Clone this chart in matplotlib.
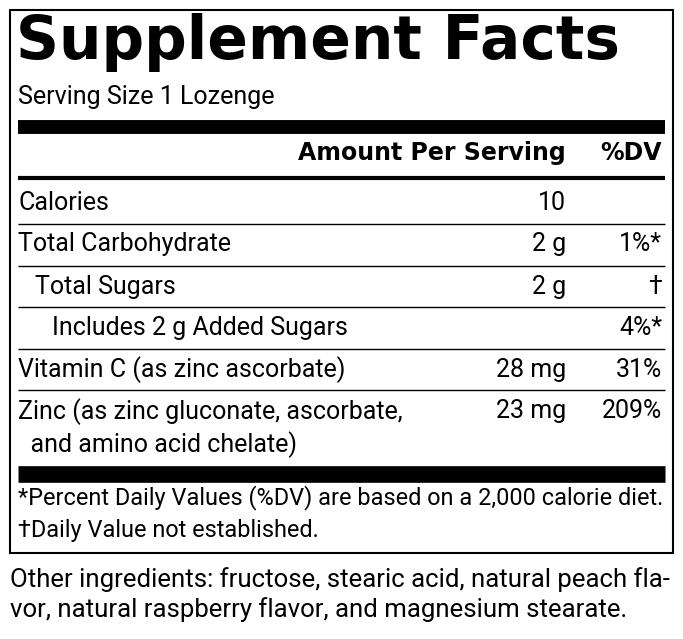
import matplotlib
matplotlib.use("Agg")
import matplotlib.pyplot as plt
from matplotlib.font_manager import fontManager

names = {f.name for f in fontManager.ttflist}
NARROW = ["Liberation Sans Narrow"] if "Liberation Sans Narrow" in names else ["Roboto"]
NARROW = NARROW + ["DejaVu Sans"]
BOLD = ["DejaVu Sans"]

title = "Supplement Facts"
serving = "Serving Size 1 Lozenge"
header_amount = "Amount Per Serving"
header_dv = "%DV"
labels = ["Calories", "Total Carbohydrate", "Total Sugars", "Includes 2 g Added Sugars",
          "Vitamin C (as zinc ascorbate)", "Zinc (as zinc gluconate, ascorbate,\n  and amino acid chelate)"]
indents = [0, 0, 1, 2, 0, 0]
amounts = ["10", "2 g", "2 g", "", "28 mg", "23 mg"]
dvs = ["", "1%*", "\u2020", "4%*", "31%", "209%"]
footnotes = ["*Percent Daily Values (%DV) are based on a 2,000 calorie diet.", "\u2020Daily Value not established."]
other = "Other ingredients: fructose, stearic acid, natural peach fla-\nvor, natural raspberry flavor, and magnesium stearate."

W, H = 683, 639
fig = plt.figure(figsize=(W/100, H/100), dpi=100)
ax = fig.add_axes([0, 0, 1, 1])
ax.set_xlim(0, W); ax.set_ylim(H, 0); ax.axis("off")

def hline(y, lw, x0=18, x1=665):
    ax.plot([x0, x1], [y, y], color="black", lw=lw, solid_capstyle="butt")

ax.add_patch(plt.Rectangle((10, 10), 663, 543, fill=False, lw=1.5, ec="black"))
ax.text(16, 43, title, fontsize=43, fontweight="bold", family=BOLD, va="center", ha="left")
fs = 18
ax.text(18, 97, serving, fontsize=fs, family=NARROW, va="center")
hline(126.5, 10)
ax.text(566, 153, header_amount, fontsize=17, fontweight="bold", family=BOLD, ha="right", va="center")
ax.text(662, 153, header_dv, fontsize=17, fontweight="bold", family=BOLD, ha="right", va="center")
hline(178, 3)
row_y = [203, 244, 287, 328, 370, 411]
line_y = [224, 266, 307, 349, 390]
for i, lab in enumerate(labels):
    y = row_y[i]
    x = 18 + 17 * indents[i]
    va = "top" if "\n" in lab else "center"
    yy = y - 13 if va == "top" else y
    ax.text(x, yy, lab, fontsize=fs, family=NARROW, va=va, linespacing=1.3)
    ax.text(566, y, amounts[i], fontsize=fs, family=NARROW, ha="right", va="center")
    ax.text(662, y, dvs[i], fontsize=fs, family=NARROW, ha="right", va="center")
for i, y in enumerate(line_y):
    hline(y, 1)
hline(474, 12)
ax.text(18, 498, footnotes[0], fontsize=16.9, family=NARROW, va="center")
ax.text(18, 530, footnotes[1], fontsize=16.9, family=NARROW, va="center")
ax.text(10, 580 - 13, other, fontsize=18.5, family=NARROW, va="top", linespacing=1.25)
fig.savefig("out.png", dpi=100)
